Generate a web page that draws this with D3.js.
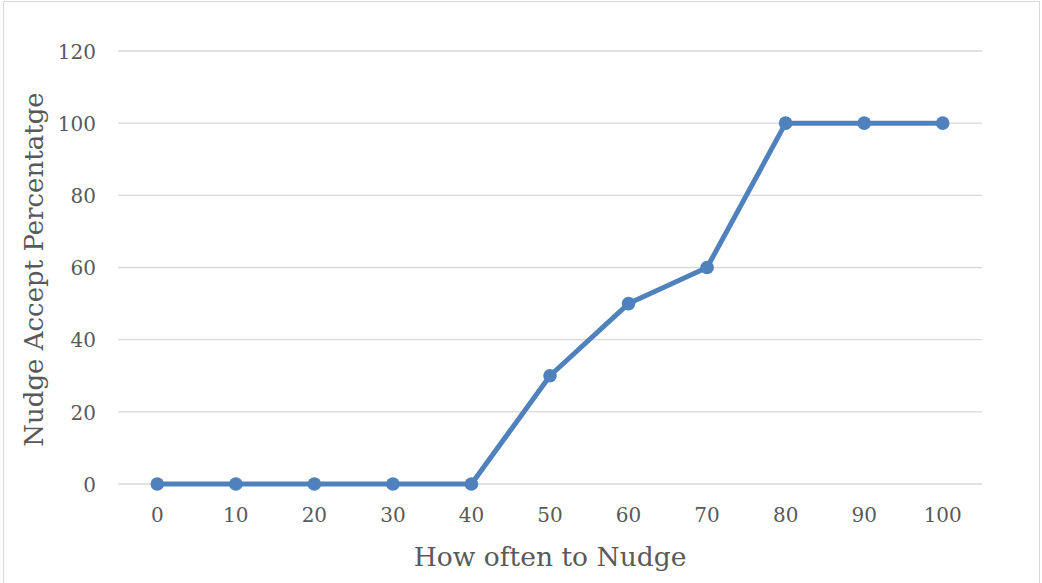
<!DOCTYPE html>
<html>
<head>
<meta charset="utf-8">
<script src="https://cdn.jsdelivr.net/npm/d3@7"></script>
<style>
  html, body { margin: 0; padding: 0; background: #fff; }
  svg { display: block; }
  text { font-family: "DejaVu Serif", "Liberation Serif", serif; fill: #595959; }
</style>
</head>
<body>
<svg id="chart" width="1042" height="583"></svg>
<script>
// Nudge frequency vs. acceptance
const categories = ["0", "10", "20", "30", "40", "50", "60", "70", "80", "90", "100"];
const acceptValues = [0, 0, 0, 0, 0, 30, 50, 60, 100, 100, 100];
const yTicks = [0, 20, 40, 60, 80, 100, 120];
const xTitle = "How often to Nudge";
const yTitle = "Nudge Accept Percentatge";

const plot = { left: 118, right: 982, top: 51, bottom: 484 };
const FONT = "DejaVu Serif, Liberation Serif, serif";

const svg = d3.select("#chart");

// chart frame
svg.append("rect")
  .attr("x", 3.5).attr("y", 1.5)
  .attr("width", 1036).attr("height", 590)
  .attr("fill", "#fff").attr("stroke", "#d9d9d9").attr("stroke-width", 1);

const x = d3.scaleBand().domain(categories).range([plot.left, plot.right]);
const y = d3.scaleLinear().domain([0, 120]).range([plot.bottom, plot.top]);

// horizontal gridlines
svg.append("g").selectAll("line").data(yTicks).join("line")
  .attr("x1", plot.left).attr("x2", plot.right)
  .attr("y1", d => y(d)).attr("y2", d => y(d))
  .attr("stroke", "#d9d9d9").attr("stroke-width", 1.3);

// y axis labels
const yAxis = d3.axisLeft(y).tickValues(yTicks).tickSize(0).tickPadding(0);
svg.append("g")
  .attr("transform", `translate(96,0)`)
  .call(yAxis)
  .call(g => g.select(".domain").remove())
  .selectAll("text")
  .attr("font-size", 20)
  .attr("font-family", FONT)
  .attr("fill", "#595959")
  .attr("dy", "0.36em");

// x axis labels
const xAxis = d3.axisBottom(x).tickSize(0).tickPadding(0);
svg.append("g")
  .attr("transform", `translate(0,${plot.bottom + 24})`)
  .call(xAxis)
  .call(g => g.select(".domain").remove())
  .selectAll("text")
  .attr("font-size", 20)
  .attr("font-family", FONT)
  .attr("fill", "#595959")
  .attr("dy", "0.71em");

// axis titles
svg.append("text")
  .attr("x", (plot.left + plot.right) / 2)
  .attr("y", 566)
  .attr("text-anchor", "middle")
  .attr("font-size", 26.5)
  .text(xTitle);

svg.append("text")
  .attr("transform", `translate(43,${(plot.top + plot.bottom) / 2 + 2}) rotate(-90)`)
  .attr("text-anchor", "middle")
  .attr("font-size", 26)
  .text(yTitle);

// series line and markers
const line = d3.line()
  .x((d, i) => x(categories[i]) + x.bandwidth() / 2)
  .y(d => y(d));

svg.append("path")
  .datum(acceptValues)
  .attr("d", line)
  .attr("fill", "none")
  .attr("stroke", "#4f81bd")
  .attr("stroke-width", 5)
  .attr("stroke-linejoin", "round");

svg.append("g").selectAll("circle").data(acceptValues).join("circle")
  .attr("cx", (d, i) => x(categories[i]) + x.bandwidth() / 2)
  .attr("cy", d => y(d))
  .attr("r", 6.8)
  .attr("fill", "#4f81bd");
</script>
</body>
</html>
